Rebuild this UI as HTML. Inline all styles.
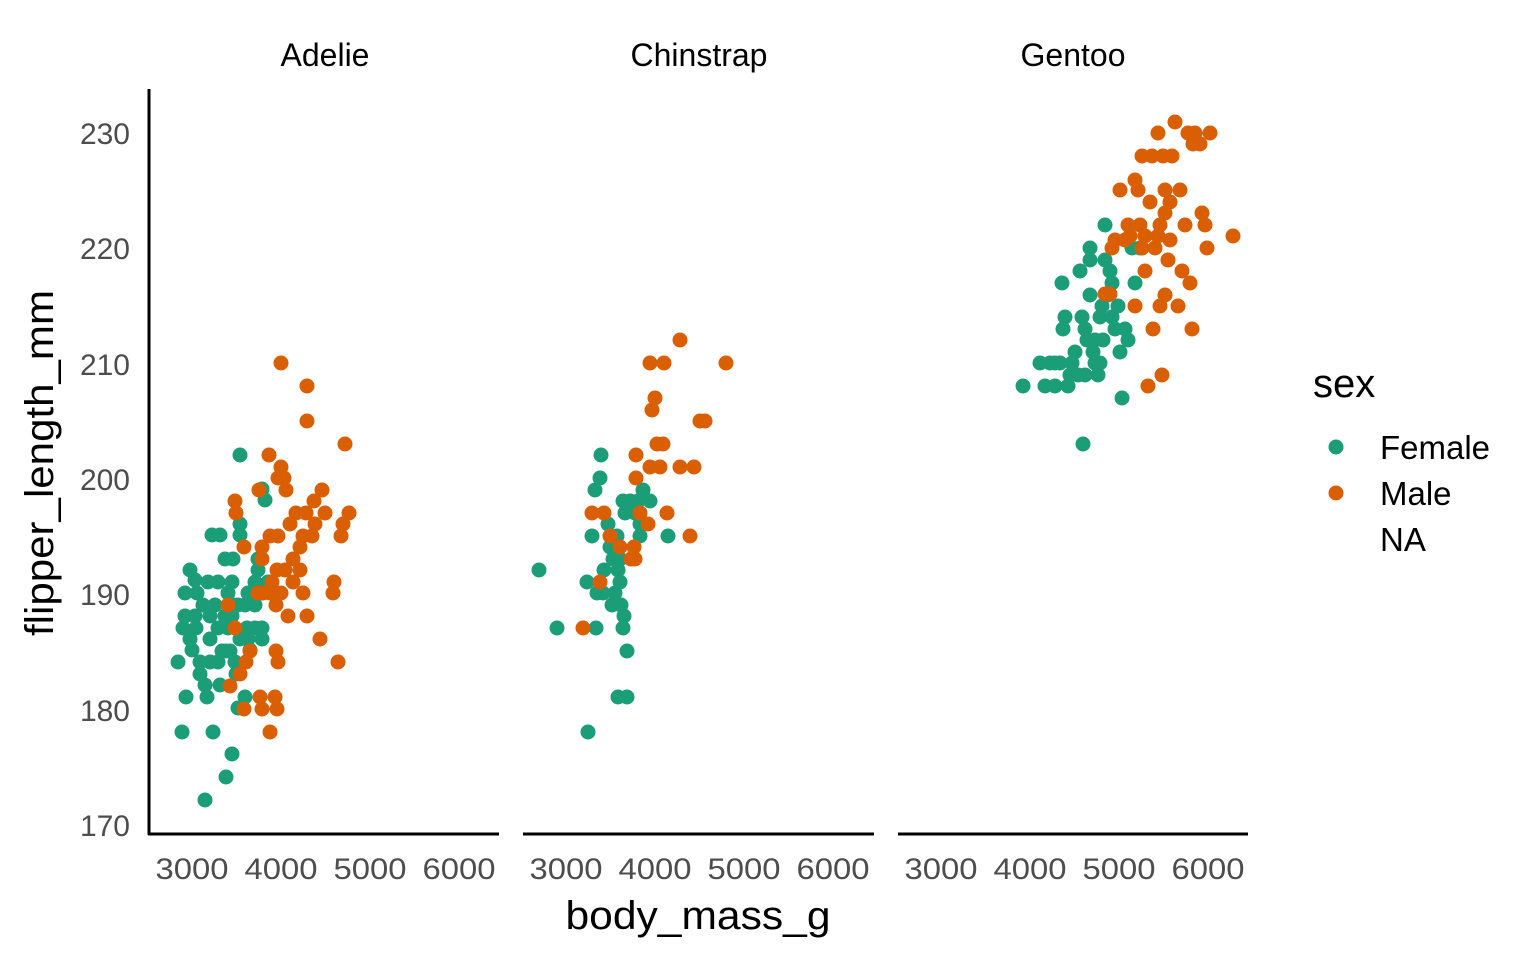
<!DOCTYPE html>
<html><head><meta charset="utf-8"><style>body{margin:0;background:#fff}</style></head><body>
<svg width="1536" height="960" xmlns="http://www.w3.org/2000/svg" font-family="Liberation Sans, sans-serif">
<rect width="1536" height="960" fill="#fff"/>
<g font-size="32" fill="#000" text-anchor="middle">
<text x="325" y="66">Adelie</text><text x="699" y="66">Chinstrap</text><text x="1073" y="66">Gentoo</text>
</g>
<g stroke="#000" stroke-width="3">
<line x1="149" y1="89" x2="149" y2="835"/>
<line x1="148" y1="834" x2="499" y2="834"/>
<line x1="523" y1="834" x2="874" y2="834"/>
<line x1="898" y1="834" x2="1248" y2="834"/>
</g>
<g font-size="30" fill="#4d4d4d" text-anchor="end">
<text x="130" y="144">230</text><text x="130" y="259">220</text><text x="130" y="375">210</text>
<text x="130" y="490">200</text><text x="130" y="605">190</text><text x="130" y="721">180</text><text x="130" y="836">170</text>
</g>
<g font-size="30" fill="#4d4d4d" text-anchor="middle" lengthAdjust="spacingAndGlyphs">
<text x="192" y="879" textLength="73" lengthAdjust="spacingAndGlyphs">3000</text><text x="281" y="879" textLength="73" lengthAdjust="spacingAndGlyphs">4000</text><text x="370" y="879" textLength="73" lengthAdjust="spacingAndGlyphs">5000</text><text x="459" y="879" textLength="73" lengthAdjust="spacingAndGlyphs">6000</text>
<text x="566" y="879" textLength="73" lengthAdjust="spacingAndGlyphs">3000</text><text x="655" y="879" textLength="73" lengthAdjust="spacingAndGlyphs">4000</text><text x="744" y="879" textLength="73" lengthAdjust="spacingAndGlyphs">5000</text><text x="833" y="879" textLength="73" lengthAdjust="spacingAndGlyphs">6000</text>
<text x="941" y="879" textLength="73" lengthAdjust="spacingAndGlyphs">3000</text><text x="1030" y="879" textLength="73" lengthAdjust="spacingAndGlyphs">4000</text><text x="1119" y="879" textLength="73" lengthAdjust="spacingAndGlyphs">5000</text><text x="1208" y="879" textLength="73" lengthAdjust="spacingAndGlyphs">6000</text>
</g>
<text x="698" y="929" font-size="40" text-anchor="middle" textLength="265" lengthAdjust="spacingAndGlyphs">body_mass_g</text>
<text transform="translate(53,463) rotate(-90)" font-size="40" text-anchor="middle" textLength="346" lengthAdjust="spacingAndGlyphs">flipper_length_mm</text>
<text x="1313" y="397" font-size="40">sex</text>
<circle cx="1336" cy="447" r="7.5" fill="#1B9E77"/><circle cx="1336" cy="493" r="7.5" fill="#D95F02"/>
<g font-size="33"><text x="1380" y="459">Female</text><text x="1380" y="505">Male</text><text x="1380" y="551">NA</text></g>
<g fill="#1B9E77">
<circle cx="178" cy="662" r="7.5"/><circle cx="182" cy="732" r="7.5"/><circle cx="185" cy="616" r="7.5"/><circle cx="183" cy="628" r="7.5"/><circle cx="185" cy="593" r="7.5"/><circle cx="190" cy="570" r="7.5"/><circle cx="195" cy="580" r="7.5"/><circle cx="197" cy="593" r="7.5"/><circle cx="195" cy="616" r="7.5"/><circle cx="192" cy="650" r="7.5"/><circle cx="200" cy="674" r="7.5"/><circle cx="205" cy="685" r="7.5"/><circle cx="207" cy="697" r="7.5"/><circle cx="205" cy="800" r="7.5"/><circle cx="213" cy="732" r="7.5"/><circle cx="226" cy="777" r="7.5"/><circle cx="232" cy="754" r="7.5"/><circle cx="210" cy="639" r="7.5"/><circle cx="215" cy="605" r="7.5"/><circle cx="212" cy="535" r="7.5"/><circle cx="220" cy="535" r="7.5"/><circle cx="225" cy="559" r="7.5"/><circle cx="233" cy="559" r="7.5"/><circle cx="240" cy="535" r="7.5"/><circle cx="240" cy="455" r="7.5"/><circle cx="240" cy="524" r="7.5"/><circle cx="232" cy="582" r="7.5"/><circle cx="238" cy="605" r="7.5"/><circle cx="228" cy="628" r="7.5"/><circle cx="222" cy="651" r="7.5"/><circle cx="218" cy="662" r="7.5"/><circle cx="226" cy="651" r="7.5"/><circle cx="235" cy="662" r="7.5"/><circle cx="238" cy="708" r="7.5"/><circle cx="245" cy="697" r="7.5"/><circle cx="248" cy="639" r="7.5"/><circle cx="255" cy="628" r="7.5"/><circle cx="255" cy="605" r="7.5"/><circle cx="258" cy="570" r="7.5"/><circle cx="262" cy="593" r="7.5"/><circle cx="262" cy="628" r="7.5"/><circle cx="262" cy="639" r="7.5"/><circle cx="265" cy="500" r="7.5"/><circle cx="262" cy="489" r="7.5"/><circle cx="270" cy="582" r="7.5"/><circle cx="258" cy="559" r="7.5"/><circle cx="203" cy="605" r="7.5"/><circle cx="208" cy="582" r="7.5"/><circle cx="218" cy="582" r="7.5"/><circle cx="228" cy="593" r="7.5"/><circle cx="250" cy="650" r="7.5"/><circle cx="247" cy="628" r="7.5"/><circle cx="236" cy="674" r="7.5"/><circle cx="220" cy="685" r="7.5"/><circle cx="233" cy="605" r="7.5"/><circle cx="248" cy="593" r="7.5"/><circle cx="255" cy="582" r="7.5"/><circle cx="190" cy="639" r="7.5"/><circle cx="196" cy="628" r="7.5"/><circle cx="210" cy="616" r="7.5"/><circle cx="200" cy="662" r="7.5"/><circle cx="186" cy="697" r="7.5"/><circle cx="210" cy="662" r="7.5"/><circle cx="240" cy="639" r="7.5"/><circle cx="232" cy="616" r="7.5"/><circle cx="245" cy="605" r="7.5"/><circle cx="225" cy="616" r="7.5"/><circle cx="218" cy="628" r="7.5"/><circle cx="230" cy="651" r="7.5"/><circle cx="268" cy="582" r="7.5"/><circle cx="272" cy="593" r="7.5"/>
<circle cx="539" cy="570" r="7.5"/><circle cx="557" cy="628" r="7.5"/><circle cx="588" cy="732" r="7.5"/><circle cx="587" cy="582" r="7.5"/><circle cx="596" cy="628" r="7.5"/><circle cx="597" cy="593" r="7.5"/><circle cx="603" cy="593" r="7.5"/><circle cx="600" cy="478" r="7.5"/><circle cx="601" cy="455" r="7.5"/><circle cx="595" cy="490" r="7.5"/><circle cx="592" cy="536" r="7.5"/><circle cx="604" cy="570" r="7.5"/><circle cx="608" cy="524" r="7.5"/><circle cx="610" cy="547" r="7.5"/><circle cx="612" cy="605" r="7.5"/><circle cx="613" cy="559" r="7.5"/><circle cx="615" cy="593" r="7.5"/><circle cx="617" cy="536" r="7.5"/><circle cx="620" cy="559" r="7.5"/><circle cx="620" cy="582" r="7.5"/><circle cx="621" cy="605" r="7.5"/><circle cx="623" cy="628" r="7.5"/><circle cx="627" cy="651" r="7.5"/><circle cx="627" cy="697" r="7.5"/><circle cx="618" cy="697" r="7.5"/><circle cx="623" cy="501" r="7.5"/><circle cx="630" cy="501" r="7.5"/><circle cx="635" cy="513" r="7.5"/><circle cx="638" cy="501" r="7.5"/><circle cx="643" cy="490" r="7.5"/><circle cx="650" cy="501" r="7.5"/><circle cx="640" cy="536" r="7.5"/><circle cx="640" cy="524" r="7.5"/><circle cx="668" cy="536" r="7.5"/><circle cx="624" cy="616" r="7.5"/><circle cx="618" cy="570" r="7.5"/><circle cx="625" cy="513" r="7.5"/>
<circle cx="1023" cy="386" r="7.5"/><circle cx="1040" cy="363" r="7.5"/><circle cx="1045" cy="386" r="7.5"/><circle cx="1050" cy="363" r="7.5"/><circle cx="1055" cy="386" r="7.5"/><circle cx="1060" cy="363" r="7.5"/><circle cx="1063" cy="329" r="7.5"/><circle cx="1065" cy="317" r="7.5"/><circle cx="1062" cy="283" r="7.5"/><circle cx="1068" cy="386" r="7.5"/><circle cx="1072" cy="363" r="7.5"/><circle cx="1075" cy="352" r="7.5"/><circle cx="1078" cy="375" r="7.5"/><circle cx="1080" cy="271" r="7.5"/><circle cx="1082" cy="317" r="7.5"/><circle cx="1085" cy="329" r="7.5"/><circle cx="1087" cy="340" r="7.5"/><circle cx="1083" cy="444" r="7.5"/><circle cx="1090" cy="248" r="7.5"/><circle cx="1090" cy="260" r="7.5"/><circle cx="1090" cy="295" r="7.5"/><circle cx="1093" cy="352" r="7.5"/><circle cx="1095" cy="363" r="7.5"/><circle cx="1098" cy="375" r="7.5"/><circle cx="1100" cy="317" r="7.5"/><circle cx="1102" cy="306" r="7.5"/><circle cx="1103" cy="340" r="7.5"/><circle cx="1105" cy="225" r="7.5"/><circle cx="1108" cy="295" r="7.5"/><circle cx="1110" cy="271" r="7.5"/><circle cx="1112" cy="317" r="7.5"/><circle cx="1115" cy="329" r="7.5"/><circle cx="1118" cy="306" r="7.5"/><circle cx="1120" cy="352" r="7.5"/><circle cx="1122" cy="398" r="7.5"/><circle cx="1125" cy="329" r="7.5"/><circle cx="1128" cy="340" r="7.5"/><circle cx="1132" cy="248" r="7.5"/><circle cx="1135" cy="283" r="7.5"/><circle cx="1140" cy="248" r="7.5"/><circle cx="1055" cy="363" r="7.5"/><circle cx="1070" cy="375" r="7.5"/><circle cx="1085" cy="375" r="7.5"/><circle cx="1095" cy="340" r="7.5"/><circle cx="1100" cy="363" r="7.5"/><circle cx="1112" cy="283" r="7.5"/><circle cx="1105" cy="260" r="7.5"/>
</g>
<g fill="#D95F02">
<circle cx="281" cy="363" r="7.5"/><circle cx="307" cy="386" r="7.5"/><circle cx="307" cy="421" r="7.5"/><circle cx="345" cy="444" r="7.5"/><circle cx="269" cy="455" r="7.5"/><circle cx="281" cy="467" r="7.5"/><circle cx="284" cy="478" r="7.5"/><circle cx="286" cy="490" r="7.5"/><circle cx="278" cy="478" r="7.5"/><circle cx="235" cy="501" r="7.5"/><circle cx="236" cy="513" r="7.5"/><circle cx="259" cy="490" r="7.5"/><circle cx="262" cy="547" r="7.5"/><circle cx="262" cy="559" r="7.5"/><circle cx="270" cy="536" r="7.5"/><circle cx="278" cy="536" r="7.5"/><circle cx="290" cy="524" r="7.5"/><circle cx="296" cy="513" r="7.5"/><circle cx="306" cy="513" r="7.5"/><circle cx="314" cy="501" r="7.5"/><circle cx="322" cy="490" r="7.5"/><circle cx="325" cy="513" r="7.5"/><circle cx="315" cy="524" r="7.5"/><circle cx="303" cy="536" r="7.5"/><circle cx="300" cy="547" r="7.5"/><circle cx="293" cy="559" r="7.5"/><circle cx="285" cy="570" r="7.5"/><circle cx="277" cy="570" r="7.5"/><circle cx="272" cy="582" r="7.5"/><circle cx="270" cy="593" r="7.5"/><circle cx="276" cy="605" r="7.5"/><circle cx="263" cy="593" r="7.5"/><circle cx="258" cy="593" r="7.5"/><circle cx="244" cy="547" r="7.5"/><circle cx="250" cy="651" r="7.5"/><circle cx="240" cy="674" r="7.5"/><circle cx="230" cy="686" r="7.5"/><circle cx="244" cy="709" r="7.5"/><circle cx="262" cy="709" r="7.5"/><circle cx="277" cy="709" r="7.5"/><circle cx="270" cy="732" r="7.5"/><circle cx="276" cy="651" r="7.5"/><circle cx="278" cy="662" r="7.5"/><circle cx="288" cy="616" r="7.5"/><circle cx="293" cy="582" r="7.5"/><circle cx="303" cy="593" r="7.5"/><circle cx="307" cy="616" r="7.5"/><circle cx="320" cy="639" r="7.5"/><circle cx="338" cy="662" r="7.5"/><circle cx="334" cy="582" r="7.5"/><circle cx="333" cy="593" r="7.5"/><circle cx="343" cy="524" r="7.5"/><circle cx="349" cy="513" r="7.5"/><circle cx="341" cy="536" r="7.5"/><circle cx="312" cy="536" r="7.5"/><circle cx="300" cy="570" r="7.5"/><circle cx="235" cy="628" r="7.5"/><circle cx="246" cy="662" r="7.5"/><circle cx="260" cy="697" r="7.5"/><circle cx="275" cy="697" r="7.5"/><circle cx="228" cy="605" r="7.5"/><circle cx="281" cy="593" r="7.5"/>
<circle cx="583" cy="628" r="7.5"/><circle cx="592" cy="513" r="7.5"/><circle cx="600" cy="582" r="7.5"/><circle cx="604" cy="513" r="7.5"/><circle cx="610" cy="536" r="7.5"/><circle cx="620" cy="547" r="7.5"/><circle cx="634" cy="547" r="7.5"/><circle cx="636" cy="455" r="7.5"/><circle cx="636" cy="478" r="7.5"/><circle cx="640" cy="513" r="7.5"/><circle cx="650" cy="363" r="7.5"/><circle cx="652" cy="410" r="7.5"/><circle cx="655" cy="398" r="7.5"/><circle cx="650" cy="467" r="7.5"/><circle cx="657" cy="444" r="7.5"/><circle cx="660" cy="467" r="7.5"/><circle cx="663" cy="444" r="7.5"/><circle cx="664" cy="363" r="7.5"/><circle cx="667" cy="513" r="7.5"/><circle cx="680" cy="340" r="7.5"/><circle cx="680" cy="467" r="7.5"/><circle cx="694" cy="467" r="7.5"/><circle cx="690" cy="536" r="7.5"/><circle cx="700" cy="421" r="7.5"/><circle cx="705" cy="421" r="7.5"/><circle cx="726" cy="363" r="7.5"/><circle cx="631" cy="559" r="7.5"/><circle cx="635" cy="559" r="7.5"/><circle cx="648" cy="524" r="7.5"/>
<circle cx="1105" cy="294" r="7.5"/><circle cx="1110" cy="294" r="7.5"/><circle cx="1115" cy="240" r="7.5"/><circle cx="1120" cy="190" r="7.5"/><circle cx="1125" cy="240" r="7.5"/><circle cx="1130" cy="236" r="7.5"/><circle cx="1135" cy="180" r="7.5"/><circle cx="1138" cy="190" r="7.5"/><circle cx="1140" cy="225" r="7.5"/><circle cx="1142" cy="248" r="7.5"/><circle cx="1145" cy="271" r="7.5"/><circle cx="1148" cy="386" r="7.5"/><circle cx="1150" cy="202" r="7.5"/><circle cx="1152" cy="156" r="7.5"/><circle cx="1153" cy="329" r="7.5"/><circle cx="1155" cy="248" r="7.5"/><circle cx="1158" cy="236" r="7.5"/><circle cx="1160" cy="306" r="7.5"/><circle cx="1162" cy="375" r="7.5"/><circle cx="1163" cy="156" r="7.5"/><circle cx="1165" cy="213" r="7.5"/><circle cx="1168" cy="260" r="7.5"/><circle cx="1170" cy="202" r="7.5"/><circle cx="1172" cy="156" r="7.5"/><circle cx="1175" cy="122" r="7.5"/><circle cx="1178" cy="306" r="7.5"/><circle cx="1180" cy="190" r="7.5"/><circle cx="1182" cy="271" r="7.5"/><circle cx="1185" cy="225" r="7.5"/><circle cx="1188" cy="133" r="7.5"/><circle cx="1190" cy="283" r="7.5"/><circle cx="1193" cy="144" r="7.5"/><circle cx="1192" cy="329" r="7.5"/><circle cx="1195" cy="133" r="7.5"/><circle cx="1200" cy="144" r="7.5"/><circle cx="1202" cy="213" r="7.5"/><circle cx="1205" cy="225" r="7.5"/><circle cx="1207" cy="248" r="7.5"/><circle cx="1210" cy="133" r="7.5"/><circle cx="1233" cy="236" r="7.5"/><circle cx="1112" cy="248" r="7.5"/><circle cx="1128" cy="225" r="7.5"/><circle cx="1135" cy="306" r="7.5"/><circle cx="1145" cy="236" r="7.5"/><circle cx="1160" cy="225" r="7.5"/><circle cx="1165" cy="295" r="7.5"/><circle cx="1170" cy="240" r="7.5"/><circle cx="1158" cy="133" r="7.5"/><circle cx="1142" cy="156" r="7.5"/><circle cx="1165" cy="190" r="7.5"/>
</g>
</svg>
</body></html>
